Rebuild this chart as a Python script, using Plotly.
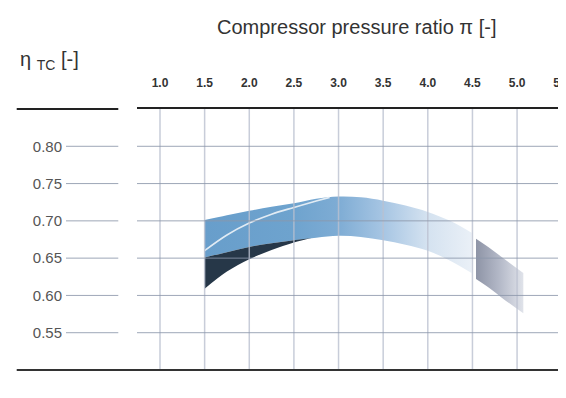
import plotly.graph_objects as go

# ---- axis ticks ----
x_ticks = [1.0, 1.5, 2.0, 2.5, 3.0, 3.5, 4.0, 4.5, 5.0, 5.5]
x_labels = ["1.0", "1.5", "2.0", "2.5", "3.0", "3.5", "4.0", "4.5", "5.0", "5.5"]
y_ticks = [0.55, 0.60, 0.65, 0.70, 0.75, 0.80]
y_labels = ["0.55", "0.60", "0.65", "0.70", "0.75", "0.80"]

# ---- main (blue) efficiency band ----
band_x = [1.5, 1.75, 2.0, 2.25, 2.5, 2.75, 3.0, 3.25, 3.5, 3.75, 4.0, 4.25, 4.49]
band_top = [0.701, 0.7075, 0.7135, 0.719, 0.7235, 0.7295, 0.7325, 0.7315, 0.727, 0.7205, 0.712, 0.700, 0.684]
band_bottom = [0.651, 0.658, 0.665, 0.670, 0.674, 0.6775, 0.680, 0.6785, 0.674, 0.668, 0.660, 0.6465, 0.630]

# ---- dark wedge below the band ----
wedge_x = [1.5, 1.75, 2.0, 2.25, 2.5, 2.7]
wedge_top = [0.651, 0.658, 0.665, 0.670, 0.674, 0.677]
wedge_bottom = [0.609, 0.632, 0.6485, 0.661, 0.671, 0.677]

# ---- thin white line inside band ----
inner_x = [1.5, 1.75, 2.0, 2.25, 2.5, 2.75, 2.9]
inner_y = [0.660, 0.681, 0.697, 0.709, 0.718, 0.7265, 0.7315]

# ---- grey band (high pressure ratio) ----
grey_x = [4.54, 4.7, 4.85, 5.07]
grey_top = [0.676, 0.663, 0.6495, 0.630]
grey_bottom = [0.622, 0.609, 0.595, 0.576]

FONT = "Liberation Sans, Arial, Helvetica, sans-serif"

fig = go.Figure()

# blue band
fig.add_trace(go.Scatter(x=band_x, y=band_bottom, mode="lines", line=dict(width=0, shape="spline"),
                         hoverinfo="skip", showlegend=False))
fig.add_trace(go.Scatter(x=band_x, y=band_top, mode="lines", line=dict(width=0, shape="spline"),
                         fill="tonexty",
                         fillgradient=dict(type="horizontal", start=band_x[0], stop=band_x[-1],
                                           colorscale=[[0.0, "rgb(104,158,203)"],
                                                       [0.33, "rgb(110,163,206)"],
                                                       [0.5, "rgb(126,172,212)"],
                                                       [0.667, "rgb(166,197,227)"],
                                                       [0.833, "rgb(212,226,240)"],
                                                       [1.0, "rgb(234,240,247)"]]),
                         hoverinfo="skip", showlegend=False))

# dark wedge
fig.add_trace(go.Scatter(x=wedge_x, y=wedge_bottom, mode="lines", line=dict(width=0, shape="spline"),
                         hoverinfo="skip", showlegend=False))
fig.add_trace(go.Scatter(x=wedge_x, y=wedge_top, mode="lines", line=dict(width=0, shape="spline"),
                         fill="tonexty", fillcolor="rgb(38,55,72)",
                         hoverinfo="skip", showlegend=False))

# white inner line
fig.add_trace(go.Scatter(x=inner_x, y=inner_y, mode="lines",
                         line=dict(width=1.6, color="rgba(232,239,246,0.95)", shape="spline"),
                         hoverinfo="skip", showlegend=False))

# grey band
fig.add_trace(go.Scatter(x=grey_x, y=grey_bottom, mode="lines", line=dict(width=0, shape="spline"),
                         hoverinfo="skip", showlegend=False))
fig.add_trace(go.Scatter(x=grey_x, y=grey_top, mode="lines", line=dict(width=0, shape="spline"),
                         fill="tonexty",
                         fillgradient=dict(type="horizontal", start=grey_x[0], stop=grey_x[-1],
                                           colorscale=[[0.0, "rgb(142,148,166)"],
                                                       [0.5, "rgb(180,185,200)"],
                                                       [1.0, "rgb(224,227,234)"]]),
                         hoverinfo="skip", showlegend=False))

shapes = []
# vertical grid lines above the bands
for xv in x_ticks:
    shapes.append(dict(type="line", xref="x", yref="paper", x0=xv, x1=xv, y0=0, y1=1,
                       line=dict(color="rgba(186,192,207,0.8)", width=1.5), layer="above"))
# horizontal grid lines + short segments next to the labels
for yv in y_ticks:
    shapes.append(dict(type="line", xref="paper", yref="y", x0=0, x1=1, y0=yv, y1=yv,
                       line=dict(color="rgba(140,150,170,0.85)", width=1), layer="above"))
    shapes.append(dict(type="line", xref="paper", yref="y", x0=-0.1655, x1=-0.0436, y0=yv, y1=yv,
                       line=dict(color="rgba(140,150,170,0.85)", width=1), layer="above"))
# top rule (left part) and bottom rule
shapes.append(dict(type="line", xref="paper", yref="paper", x0=-0.2804, x1=-0.0436, y0=1, y1=1,
                   line=dict(color="#222222", width=2), layer="above"))
shapes.append(dict(type="line", xref="paper", yref="paper", x0=-0.2804, x1=1, y0=0, y1=0,
                   line=dict(color="#333333", width=2), layer="above"))

# page body has an 8px margin: figure is sized/positioned to compensate
fig.update_layout(
    width=558, height=390,
    margin=dict(l=129, r=0, t=101, b=28),
    paper_bgcolor="white", plot_bgcolor="white",
    font=dict(family=FONT, color="#333333"),
    shapes=shapes,
    xaxis=dict(range=[0.7424, 5.548], side="top", tickvals=x_ticks, ticktext=x_labels,
               showgrid=False, zeroline=False, ticks="", showline=True, linecolor="#222222",
               linewidth=2, tickfont=dict(size=12, weight="bold", color="#333333", family=FONT),
               ticklabelstandoff=15, ticklabeloverflow="allow", automargin=False, fixedrange=True),
    yaxis=dict(range=[0.50, 0.85], tickvals=y_ticks, ticktext=y_labels,
               showgrid=False, zeroline=False, ticks="", showline=False,
               tickfont=dict(size=15, color="#555555", family=FONT),
               ticklabelstandoff=74, ticklabeloverflow="allow", automargin=False, fixedrange=True),
    annotations=[
        dict(text="Compressor pressure ratio π [-]", xref="paper", yref="paper",
             x=0.5128, y=1.314, xanchor="center", yanchor="middle", showarrow=False,
             font=dict(size=20, color="#333333", family=FONT)),
        dict(text="η <sub>TC</sub> [-]", xref="paper", yref="paper",
             x=-0.277, y=1.184, xanchor="left", yanchor="middle", showarrow=False,
             font=dict(size=20, color="#333333", family=FONT)),
    ],
)

fig.write_html("out.html")
